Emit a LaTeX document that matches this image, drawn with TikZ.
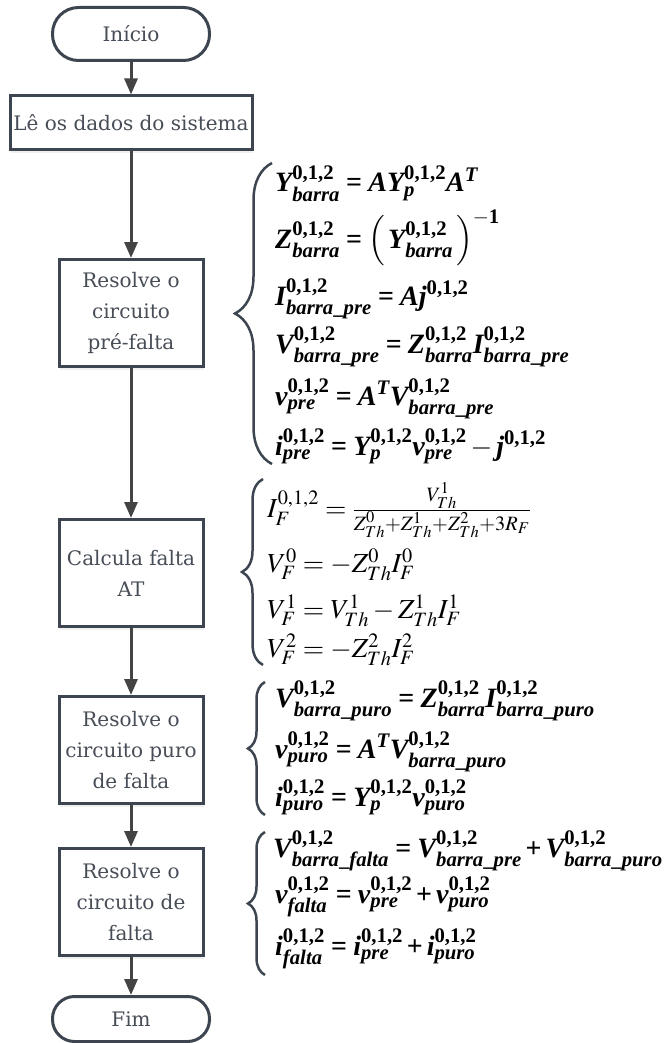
\documentclass[tikz,border=0pt]{standalone}
\usepackage{amsmath}
\usepackage{mathptmx}
\usepackage[no-math]{fontspec}
\setmainfont{DejaVu Serif}
\newfontfamily\eqfont[NFSSFamily=libserif]{Liberation Serif}
% bold formulas: letters and digits from Liberation Serif
\SetSymbolFont{letters}{bold}{TU}{libserif}{\bfdefault}{it}
\SetSymbolFont{operators}{bold}{TU}{libserif}{\bfdefault}{n}
\mathcode`\,="602C
\newcommand{\usc}{\text{\eqfont\bfseries\textunderscore}}
\usetikzlibrary{arrows.meta,shadows,decorations.pathreplacing}

\definecolor{edge}{HTML}{3D4650}
\definecolor{ink}{HTML}{474D56}
\definecolor{flow}{HTML}{444444}

\tikzset{
  term/.style={draw=edge, line width=3pt, fill=white, text=ink,
    minimum width=157pt, font=\fontsize{20}{31}\selectfont},
  stepbox/.style={draw=edge, line width=3pt, fill=white, text=ink, align=center,
    minimum width=144pt, minimum height=107pt, font=\fontsize{20}{31}\selectfont,
    drop shadow={opacity=0.12, shadow xshift=1pt, shadow yshift=-3pt}},
  flowline/.style={draw=flow, line width=3pt, -{Triangle[length=16pt,width=13pt]}},
  eq/.style={anchor=base west, inner sep=0pt, font=\fontsize{28}{31}\selectfont\mathversion{bold}},
  eqthin/.style={anchor=base west, inner sep=0pt, font=\fontsize{27.5}{32}\selectfont},
  curly/.style={draw=edge, line width=2.5pt, decorate, decoration={brace, amplitude=#1}}
}

\begin{document}
\begin{tikzpicture}[x=1pt, y=-1pt]
    \useasboundingbox (0,0) rectangle (664,1043);

    % Flow of the method
    \node[term, minimum height=53pt, rounded corners=26pt] (inicio) at (131,34) {Início};
    \node[stepbox, minimum width=242pt, minimum height=54pt] (dados) at (131,123) {Lê os dados do sistema};
    \node[stepbox] (prefalta) at (131,313) {Resolve o\\circuito\\pré-falta};
    \node[stepbox] (calcula) at (131,573) {Calcula falta\\AT};
    \node[stepbox] (puro) at (131,750) {Resolve o\\circuito puro\\de falta};
    \node[stepbox] (falta) at (131,902) {Resolve o\\circuito de\\falta};
    \node[term, minimum height=45pt, rounded corners=22pt] (fim) at (131,1019) {Fim};

    \draw[flowline] (inicio) -- (dados);
    \draw[flowline] (dados) -- (prefalta);
    \draw[flowline] (prefalta) -- (calcula);
    \draw[flowline] (calcula) -- (puro);
    \draw[flowline] (puro) -- (falta);
    \draw[flowline] (falta) -- (fim);

    % Pre-fault circuit
    \draw[curly=37pt] (272,464) -- (272,163);
    \node[eq] (pre1) at (275,192) {$Y^{0,1,2}_{barra} = A Y^{0,1,2}_{p} A^{T}$};
    \node[eq] (pre2) at (275,248) {$Z^{0,1,2}_{barra} = \left(\,Y^{0,1,2}_{barra}\,\right)^{-1}$};
    \node[eq] (pre3) at (275,305) {$I^{0,1,2}_{barra\usc pre} = A j^{0,1,2}$};
    \node[eq] (pre4) at (275,353) {$V^{0,1,2}_{barra\usc pre} = Z^{0,1,2}_{barra} I^{0,1,2}_{barra\usc pre}$};
    \node[eq] (pre5) at (275,405) {$v^{0,1,2}_{pre} = A^{T} V^{0,1,2}_{barra\usc pre}$};
    \node[eq] (pre6) at (275,455) {$i^{0,1,2}_{pre} = Y^{0,1,2}_{p} v^{0,1,2}_{pre} - j^{0,1,2}$};

    % AT fault
    \draw[curly=21pt] (263,665) -- (263,479);
    \node[eqthin] (at1) at (267,517) {$I^{0,1,2}_{F} = \frac{V^{1}_{Th}}{Z^{0}_{Th}+Z^{1}_{Th}+Z^{2}_{Th}+3R_F}$};
    \node[eqthin] (at2) at (267,572) {$V^{0}_{F} = -Z^{0}_{Th} I^{0}_{F}$};
    \node[eqthin] (at3) at (267,618) {$V^{1}_{F} = V^{1}_{Th} - Z^{1}_{Th} I^{1}_{F}$};
    \node[eqthin] (at4) at (267,657) {$V^{2}_{F} = -Z^{2}_{Th} I^{2}_{F}$};

    % Pure fault circuit
    \draw[curly=17pt] (265,815) -- (265,682);
    \node[eq] (pur1) at (275,707) {$V^{0,1,2}_{barra\usc puro} = Z^{0,1,2}_{barra} I^{0,1,2}_{barra\usc puro}$};
    \node[eq] (pur2) at (275,758) {$v^{0,1,2}_{puro} = A^{T} V^{0,1,2}_{barra\usc puro}$};
    \node[eq] (pur3) at (275,806) {$i^{0,1,2}_{puro} = Y^{0,1,2}_{p} v^{0,1,2}_{puro}$};

    % Fault circuit
    \draw[curly=17pt] (265,975) -- (265,832);
    \node[eq] (flt1) at (273,857) {$V^{0,1,2}_{barra\usc falta} = V^{0,1,2}_{barra\usc pre} + V^{0,1,2}_{barra\usc puro}$};
    \node[eq] (flt2) at (275,903) {$v^{0,1,2}_{falta} = v^{0,1,2}_{pre} + v^{0,1,2}_{puro}$};
    \node[eq] (flt3) at (275,955) {$i^{0,1,2}_{falta} = i^{0,1,2}_{pre} + i^{0,1,2}_{puro}$};
\end{tikzpicture}
\end{document}
